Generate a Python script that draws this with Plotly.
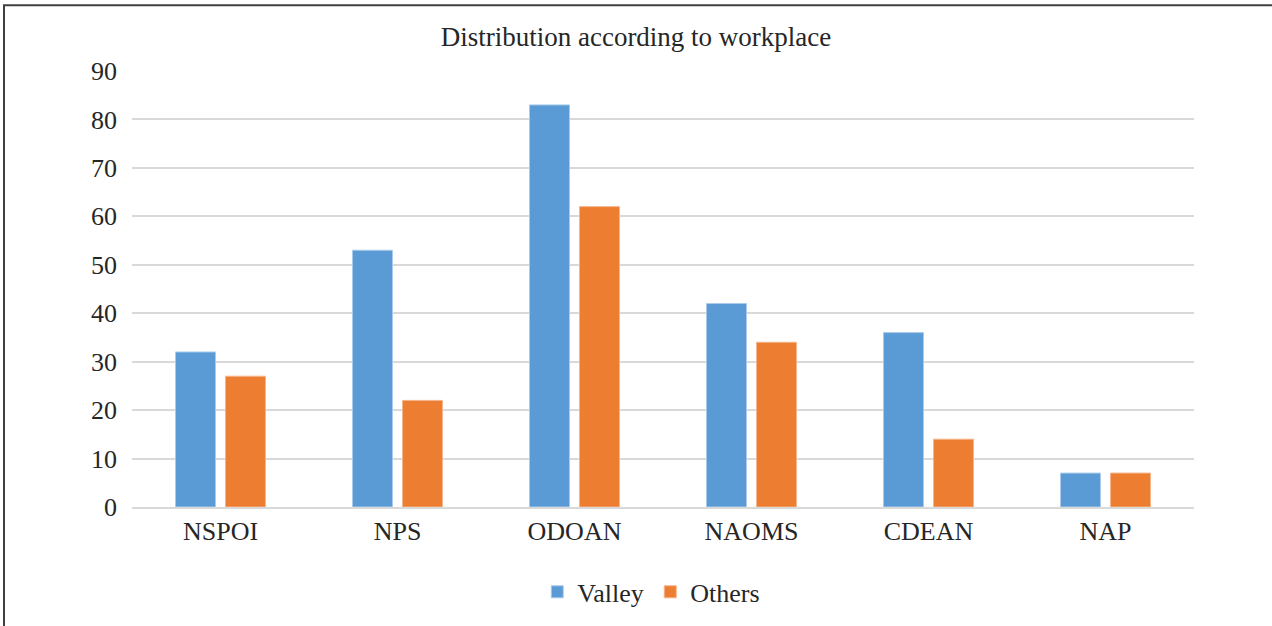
import plotly.graph_objects as go

# data
categories = ['NSPOI', 'NPS', 'ODOAN', 'NAOMS', 'CDEAN', 'NAP']
valley = [32, 53, 83, 42, 36, 7]
others = [27, 22, 62, 34, 14, 7]
y_ticks = [0, 10, 20, 30, 40, 50, 60, 70, 80, 90]

font_family = 'Liberation Serif, Times New Roman, serif'

fig = go.Figure()
fig.add_trace(go.Bar(x=categories, y=valley, name='Valley',
                     marker=dict(color='#5B9BD5', line=dict(color='#A9CBEB', width=1))))
fig.add_trace(go.Bar(x=categories, y=others, name='Others',
                     marker=dict(color='#ED7D31', line=dict(color='#F5B48A', width=1))))

fig.update_layout(
    autosize=False,
    width=1272,
    height=626,
    margin=dict(l=132, r=78, t=71, b=118),
    plot_bgcolor='white',
    paper_bgcolor='white',
    font=dict(family=font_family, size=26, color='#262626'),
    title=dict(text='Distribution according to workplace', x=0.5, xanchor='center',
               y=1 - 37 / 626, yanchor='middle', font=dict(size=27, color='#262626')),
    barmode='group',
    bargap=0.435,
    bargroupgap=0.2,
    showlegend=True,
    legend=dict(orientation='h', x=0.488, xanchor='center', y=-0.192, yanchor='middle',
                font=dict(size=26), itemwidth=30, entrywidth=68, traceorder='normal'),
)

fig.update_xaxes(showgrid=False, showline=True, linecolor='#D9D9D9', linewidth=2,
                 ticks='', tickfont=dict(size=26))
fig.update_yaxes(range=[0, 90], tickvals=y_ticks, showgrid=True, gridcolor='#D9D9D9',
                 gridwidth=1.5, zeroline=False, showline=False, ticks='',
                 ticklabelstandoff=14, tickfont=dict(size=26))

# outer frame of the original figure
fig.add_shape(type='rect', xref='paper', yref='paper',
              x0=(4 - 132) / 1062, x1=(1290 - 132) / 1062,
              y0=(508 - 640) / 437, y1=(508 - 5) / 437,
              line=dict(color='#404040', width=2), layer='above')

# drop the default page margin so the figure sits at the window corner
fig.write_html('out.html', config={'displayModeBar': False},
               post_script="document.body.style.margin='0';")
